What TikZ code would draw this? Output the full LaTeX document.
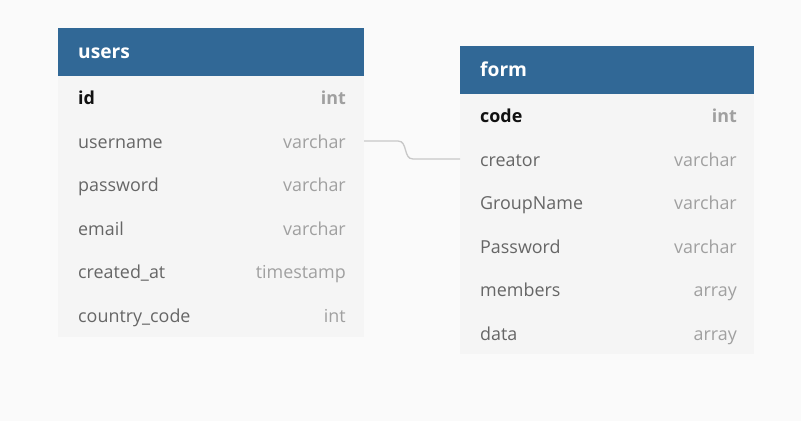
\documentclass[tikz,border=0pt]{standalone}
\usepackage{fontspec}
\setmainfont{Open Sans}
\definecolor{pagebg}{HTML}{FAFAFA}
\definecolor{hdr}{HTML}{316896}
\definecolor{bodybg}{HTML}{F5F5F5}
\definecolor{fname}{HTML}{666666}
\definecolor{ftype}{HTML}{A0A0A0}
\definecolor{pkname}{HTML}{111111}
\definecolor{link}{HTML}{C8C8C8}
\tikzset{
  hdrbox/.style={fill=hdr, draw=none, inner sep=0pt, anchor=north west},
  bodybox/.style={fill=bodybg, draw=none, inner sep=0pt, anchor=north west},
  hdrtext/.style={anchor=base west, inner sep=0pt, text=white, font=\fontsize{19.2}{19.2}\selectfont\bfseries},
  fieldname/.style={anchor=base west, inner sep=0pt, text=fname, font=\fontsize{17.9}{17.9}\selectfont},
  fieldtype/.style={anchor=base east, inner sep=0pt, text=ftype, font=\fontsize{17.9}{17.9}\selectfont},
  pkname/.style={fieldname, text=pkname, font=\fontsize{17.9}{17.9}\selectfont\bfseries},
  pktype/.style={fieldtype, font=\fontsize{17.9}{17.9}\selectfont\bfseries},
  linkline/.style={draw=link, line width=1.3pt},
}
\begin{document}
\begin{tikzpicture}[x=1pt,y=-1pt]
\fill[pagebg] (0,0) rectangle (801,421);
\useasboundingbox (0,0) rectangle (801,421);
% users table
\node[bodybox, minimum width=306pt, minimum height=262pt] (ubody) at (58,75) {};
\node[hdrbox, minimum width=306pt, minimum height=47.5pt] (uhdr) at (58,28) {};
\node[hdrtext] (utitle) at (78,58) {users};
\node[pkname] (un1) at (78,104) {id};
\node[pktype] (ut1) at (346,104) {int};
\node[fieldname] (un2) at (78,148) {username};
\node[fieldtype] (ut2) at (346,148) {varchar};
\node[fieldname] (un3) at (78,191) {password};
\node[fieldtype] (ut3) at (346,191) {varchar};
\node[fieldname] (un4) at (78,235) {email};
\node[fieldtype] (ut4) at (346,235) {varchar};
\node[fieldname] (un5) at (78,278) {created\_at};
\node[fieldtype] (ut5) at (346,278) {timestamp};
\node[fieldname] (un6) at (78,322) {country\_code};
\node[fieldtype] (ut6) at (346,322) {int};
% form table
\node[bodybox, minimum width=294pt, minimum height=261pt] (fbody) at (460,93) {};
\node[hdrbox, minimum width=294pt, minimum height=47.5pt] (fhdr) at (460,46) {};
\node[hdrtext] (ftitle) at (480,76) {form};
\node[pkname] (fn1) at (480,122) {code};
\node[pktype] (ft1) at (737,122) {int};
\node[fieldname] (fn2) at (480,166) {creator};
\node[fieldtype] (ft2) at (737,166) {varchar};
\node[fieldname] (fn3) at (480,209) {GroupName};
\node[fieldtype] (ft3) at (737,209) {varchar};
\node[fieldname] (fn4) at (480,253) {Password};
\node[fieldtype] (ft4) at (737,253) {varchar};
\node[fieldname] (fn5) at (480,296) {members};
\node[fieldtype] (ft5) at (737,296) {array};
\node[fieldname] (fn6) at (480,340) {data};
\node[fieldtype] (ft6) at (737,340) {array};
% connector
\coordinate (ulink) at (364,141);
\coordinate (flink) at (460,159);
\draw[linkline] (ulink) -- (398,141) .. controls (408,141) and (403,159) .. (413,159) -- (flink);
\end{tikzpicture}
\end{document}
